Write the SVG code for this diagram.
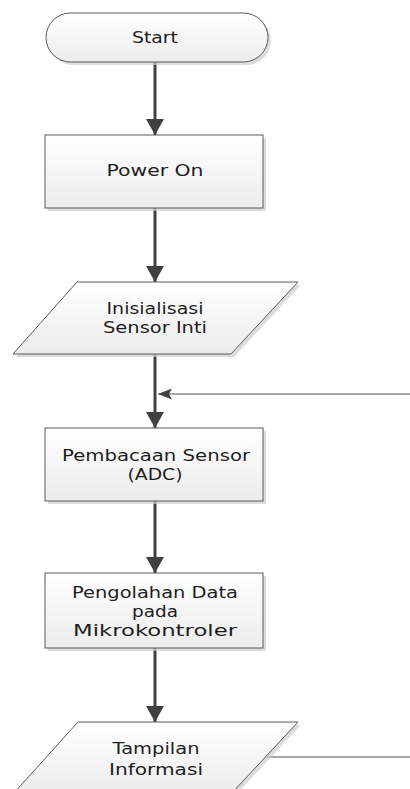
<svg xmlns="http://www.w3.org/2000/svg" width="410" height="789" viewBox="0 0 410 789">
<style>
.shape{fill:url(#g);stroke:#5a5a5a;stroke-width:1}
.shadow{fill:#cfcfcf;opacity:0.7}
.t{font-family:"DejaVu Sans","Liberation Sans",sans-serif;font-size:15px;fill:#1e1e1e;text-anchor:middle}
.main{stroke:#404040;stroke-width:3;fill:none;marker-end:url(#ah)}
.side{stroke:#8a8a8a;stroke-width:1.5;fill:none}
</style>
<defs>
<linearGradient id="g" x1="0" y1="0" x2="0" y2="1">
<stop offset="0" stop-color="#ffffff"/>
<stop offset="1" stop-color="#ececec"/>
</linearGradient>
<marker id="ah" markerUnits="userSpaceOnUse" markerWidth="20" markerHeight="20" refX="16" refY="9" orient="auto">
<path d="M0,0 L16,9 L0,18 Z" fill="#404040"/>
</marker>
<marker id="sh" markerUnits="userSpaceOnUse" markerWidth="16" markerHeight="12" refX="14" refY="6" orient="auto">
<path d="M0,0.5 L14,6 L0,11.5 L3,6 Z" fill="#404040"/>
</marker>
</defs>
<g id="connectors">
<line class="main" x1="155" y1="62" x2="155" y2="135"/>
<line class="main" x1="155" y1="208" x2="155" y2="282"/>
<line class="main" x1="155" y1="354" x2="155" y2="428"/>
<line class="main" x1="155" y1="501" x2="155" y2="573"/>
<line class="main" x1="155" y1="648" x2="155" y2="722"/>
<line class="side" x1="410" y1="394" x2="158" y2="394" marker-end="url(#sh)"/>
<line class="side" x1="267" y1="757" x2="410" y2="757"/>
</g>
<g id="start">
<rect class="shadow" x="49" y="16" width="222" height="49" rx="24.5"/>
<rect class="shape" x="46" y="13" width="222" height="49" rx="24.5"/>
<text class="t" x="155" y="43" textLength="46" lengthAdjust="spacingAndGlyphs">Start</text>
</g>
<g id="power-on">
<rect class="shadow" x="48" y="138" width="218" height="73"/>
<rect class="shape" x="45" y="135" width="218" height="73"/>
<text class="t" x="155" y="176" textLength="97" lengthAdjust="spacingAndGlyphs">Power On</text>
</g>
<g id="inisialisasi">
<polygon class="shadow" points="80,285 301,285 234,357 16,357"/>
<polygon class="shape" points="77,282 298,282 231,354 13,354"/>
<text class="t" x="155" y="314" textLength="97" lengthAdjust="spacingAndGlyphs">Inisialisasi</text>
<text class="t" x="155" y="333" textLength="104" lengthAdjust="spacingAndGlyphs">Sensor Inti</text>
</g>
<g id="pembacaan">
<rect class="shadow" x="48" y="431" width="218" height="73"/>
<rect class="shape" x="45" y="428" width="218" height="73"/>
<text class="t" x="156" y="461" textLength="188" lengthAdjust="spacingAndGlyphs">Pembacaan Sensor</text>
<text class="t" x="155" y="480" textLength="55" lengthAdjust="spacingAndGlyphs">(ADC)</text>
</g>
<g id="pengolahan">
<rect class="shadow" x="48" y="576" width="218" height="75"/>
<rect class="shape" x="45" y="573" width="218" height="75"/>
<text class="t" x="155" y="598" textLength="166" lengthAdjust="spacingAndGlyphs">Pengolahan Data</text>
<text class="t" x="155" y="617" textLength="46" lengthAdjust="spacingAndGlyphs">pada</text>
<text class="t" x="155" y="636" textLength="164" lengthAdjust="spacingAndGlyphs">Mikrokontroler</text>
</g>
<g id="tampilan">
<polygon class="shadow" points="81,725 301,725 234,797 16,797"/>
<polygon class="shape" points="78,722 298,722 231,794 13,794"/>
<text class="t" x="156" y="754" textLength="87" lengthAdjust="spacingAndGlyphs">Tampilan</text>
<text class="t" x="156" y="775" textLength="94" lengthAdjust="spacingAndGlyphs">Informasi</text>
</g>
</svg>
